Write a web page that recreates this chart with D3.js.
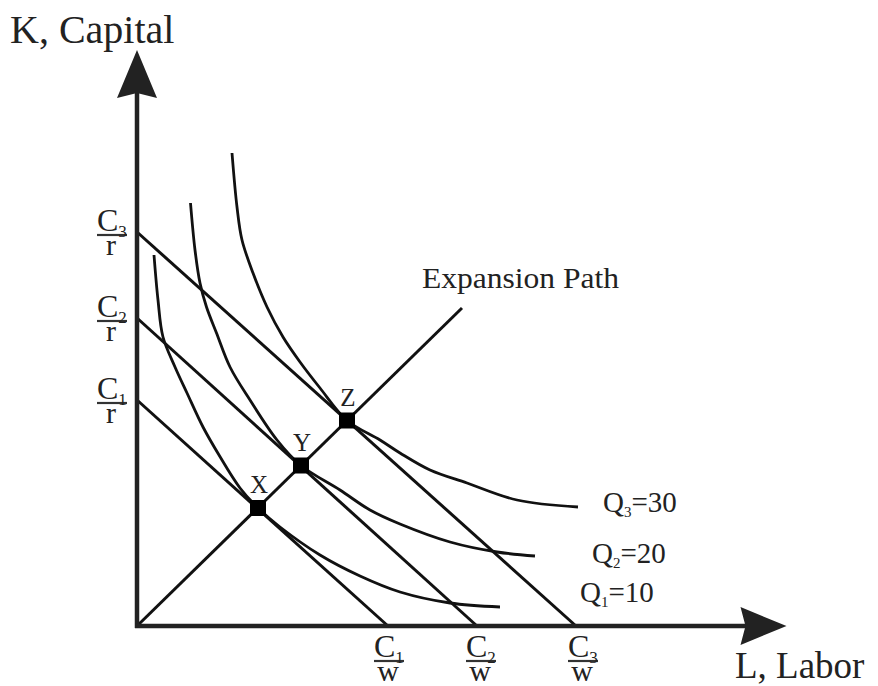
<!DOCTYPE html>
<html><head><meta charset="utf-8">
<script src="https://cdn.jsdelivr.net/npm/d3@7"></script>
<style>
body{margin:0;background:#fff;}
svg{display:block;}
text{font-family:"Liberation Serif","DejaVu Serif",serif;fill:#222;}
</style>
</head><body>
<svg id="chart" width="878" height="686"></svg>
<script>
// ---- Data (L = labor units, K = capital units) ----
const budgetNames = ["1", "2", "3"];
const budgetKIntercepts = [4.52, 6.16, 7.88];
const budgetLIntercepts = [5.02, 6.80, 8.78];

const isoquantSubs = ["1", "2", "3"];
const isoquantOutputs = [10, 20, 30];
const q1L = [0.34, 0.42, 0.52, 0.76, 1.00, 1.32, 1.64, 2.06, 2.42, 2.86, 3.66, 4.46, 5.26, 6.26, 7.26];
const q1K = [7.42, 6.52, 5.78, 5.18, 4.66, 3.98, 3.42, 2.76, 2.36, 1.98, 1.42, 1.00, 0.68, 0.46, 0.38];
const q2L = [1.07, 1.16, 1.26, 1.39, 1.59, 1.86, 2.26, 2.80, 3.28, 4.06, 4.66, 5.26, 6.26, 7.20, 7.96];
const q2K = [8.46, 7.52, 6.86, 6.38, 5.86, 5.18, 4.52, 3.72, 3.21, 2.72, 2.32, 2.04, 1.68, 1.48, 1.40];
const q3L = [1.90, 2.00, 2.10, 2.32, 2.60, 2.92, 3.26, 3.66, 4.20, 4.86, 5.26, 5.86, 6.60, 7.60, 8.82];
const q3K = [9.46, 8.38, 7.72, 7.06, 6.38, 5.78, 5.28, 4.76, 4.11, 3.72, 3.46, 3.12, 2.86, 2.52, 2.38];

const optimumNames = ["X", "Y", "Z"];
const optimumL = [2.42, 3.28, 4.20];
const optimumK = [2.36, 3.21, 4.11];

const expansionL = [0, 6.50];
const expansionK = [0, 6.36];

const axisLabels = ["K, Capital", "L, Labor"];
const expansionLabel = "Expansion Path";

// ---- Scales ----
const svg = d3.select("#chart");
const x = d3.scaleLinear().domain([0, 13]).range([137, 787]);
const y = d3.scaleLinear().domain([0, 11.6]).range([626, 46]);

const line = d3.line().x(d => x(d[0])).y(d => y(d[1]));
const curve = d3.line().x(d => x(d[0])).y(d => y(d[1])).curve(d3.curveCatmullRom.alpha(0.5));

// ---- Isoquants ----
const isoData = [d3.zip(q1L, q1K), d3.zip(q2L, q2K), d3.zip(q3L, q3K)];
svg.append("g").selectAll("path").data(isoData).join("path")
  .attr("d", curve).attr("fill", "none").attr("stroke", "#111").attr("stroke-width", 2.8);

// ---- Budget lines ----
const budgets = budgetNames.map((n, i) => [[0, budgetKIntercepts[i]], [budgetLIntercepts[i], 0]]);
svg.append("g").selectAll("path").data(budgets).join("path")
  .attr("d", line).attr("fill", "none").attr("stroke", "#111").attr("stroke-width", 3);

// ---- Expansion path ----
svg.append("path").datum(d3.zip(expansionL, expansionK))
  .attr("d", line).attr("fill", "none").attr("stroke", "#111").attr("stroke-width", 3);

// ---- Axes ----
const yTop = 11.52, xRight = 12.99;
svg.append("line").attr("x1", x(0)).attr("y1", y(0) + 2).attr("x2", x(0)).attr("y2", y(yTop) + 40)
  .attr("stroke", "#222").attr("stroke-width", 4.5);
svg.append("line").attr("x1", x(0) - 2).attr("y1", y(0)).attr("x2", x(xRight) - 40).attr("y2", y(0))
  .attr("stroke", "#222").attr("stroke-width", 4.5);
// arrowheads
const tY = [x(0), y(yTop)];
svg.append("path").attr("d",
  `M${tY[0]},${tY[1]} L${tY[0] + 20},${tY[1] + 48} L${tY[0]},${tY[1] + 43} L${tY[0] - 20},${tY[1] + 48} Z`)
  .attr("fill", "#222");
const tX = [x(xRight), y(0)];
svg.append("path").attr("d",
  `M${tX[0]},${tX[1]} L${tX[0] - 46},${tX[1] - 19} L${tX[0] - 41},${tX[1]} L${tX[0] - 46},${tX[1] + 19} Z`)
  .attr("fill", "#222");

// axis titles
svg.append("text").attr("x", 10).attr("y", 43).attr("font-size", 40).text(axisLabels[0]);
svg.append("text").attr("x", 735).attr("y", 678).attr("font-size", 37).text(axisLabels[1]);

// ---- Fraction labels ----
function fraction(g, left, barY, sub, denom) {
  g.append("line").attr("x1", left).attr("x2", left + 30).attr("y1", barY).attr("y2", barY)
    .attr("stroke", "#333").attr("stroke-width", 2.2);
  const t = g.append("text").attr("font-size", 32);
  t.append("tspan").attr("x", left).attr("y", barY - 4).text("C");
  t.append("tspan").attr("font-size", 17).attr("dy", 6).text(sub);
  t.append("tspan").attr("x", left + 14).attr("y", barY + 20).attr("font-size", 30)
    .attr("text-anchor", "middle").text(denom);
}
const fg = svg.append("g");
budgetNames.forEach((n, i) => {
  fraction(fg, 97, y(budgetKIntercepts[i]) + 3, n, "r");
  fraction(fg, x(budgetLIntercepts[i]) - 14 + i * 3, 661, n, "w");
});

// ---- Optimum markers ----
svg.append("g").selectAll("rect").data(optimumNames).join("rect")
  .attr("x", (d, i) => x(optimumL[i]) - 8).attr("y", (d, i) => y(optimumK[i]) - 8)
  .attr("width", 16).attr("height", 16).attr("fill", "#000");
svg.append("g").selectAll("text").data(optimumNames).join("text")
  .attr("x", (d, i) => x(optimumL[i]) + 1).attr("y", (d, i) => y(optimumK[i]) - 15)
  .attr("text-anchor", "middle").attr("font-size", 25).attr("fill", "#444").text(d => d);

// ---- Isoquant labels ----
const qPos = [[580, 602], [592, 563], [603, 512]];
isoquantSubs.forEach((s, i) => {
  const t = svg.append("text").attr("x", qPos[i][0]).attr("y", qPos[i][1]).attr("font-size", 29);
  t.append("tspan").text("Q");
  t.append("tspan").attr("font-size", 15).attr("dy", 5).text(s);
  t.append("tspan").attr("dy", -5).text("=" + isoquantOutputs[i]);
});

// ---- Expansion label ----
svg.append("text").attr("x", 422).attr("y", 288).attr("font-size", 30)
  .attr("textLength", 197).attr("lengthAdjust", "spacingAndGlyphs").text(expansionLabel);
</script>
</body></html>
